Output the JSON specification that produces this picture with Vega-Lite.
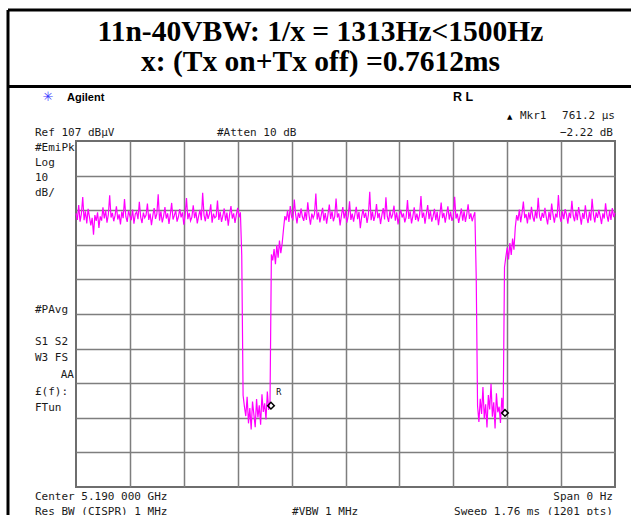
{
  "$schema": "https://vega.github.io/schema/vega-lite/v6.json",
  "width": 539,
  "height": 346,
  "autosize": {"type": "none"},
  "padding": {"left": 76, "top": 141, "right": 16, "bottom": 28},
  "background": "white",
  "title": {
    "text": ["11n-40VBW: 1/x = 1313Hz<1500Hz", "x: (Tx on+Tx off) =0.7612ms"],
    "font": "Liberation Serif",
    "fontSize": 29.5,
    "fontWeight": "bold",
    "color": "black",
    "anchor": "middle",
    "frame": "group",
    "dx": -25,
    "offset": -69,
    "lineHeight": 30
  },
  "config": {
    "view": {"stroke": "#6e6e6e", "strokeWidth": 2}
  },
  "datasets": {
    "frame": [
      {"p": -151.4, "p2": -151.4, "v": 144.86, "v2": -2.5},
      {"p": -151.4, "p2": 1255.6, "v": 144.86, "v2": 144.86},
      {"p": -151.4, "p2": 1255.6, "v": 122.75, "v2": 122.75}
    ],
    "trace": [
      {"p":0,"v":86.1},{"p":3,"v":84.2},{"p":6,"v":88.5},{"p":9,"v":83.7},{"p":12,"v":85.9},{"p":15,"v":90.8},{"p":18,"v":84.1},{"p":21,"v":86.7},{"p":24,"v":83.2},{"p":27,"v":87.4},
      {"p":30,"v":85.0},{"p":33,"v":82.6},{"p":36,"v":84.8},{"p":39,"v":79.9},{"p":42,"v":85.6},{"p":45,"v":83.9},{"p":48,"v":86.4},{"p":51,"v":81.9},{"p":54,"v":85.2},{"p":57,"v":84.0},
      {"p":60,"v":87.8},{"p":63,"v":84.6},{"p":66,"v":86.9},{"p":69,"v":83.4},{"p":72,"v":85.7},{"p":75,"v":91.3},{"p":78,"v":84.9},{"p":81,"v":86.2},{"p":84,"v":83.8},{"p":87,"v":85.5},
      {"p":90,"v":88.1},{"p":93,"v":84.3},{"p":96,"v":85.8},{"p":99,"v":82.9},{"p":102,"v":86.6},{"p":105,"v":84.7},{"p":108,"v":90.2},{"p":111,"v":85.1},{"p":114,"v":83.6},{"p":117,"v":86.8},
      {"p":120,"v":85.3},{"p":123,"v":84.1},{"p":126,"v":87.2},{"p":129,"v":83.1},{"p":132,"v":85.9},{"p":135,"v":86.5},{"p":138,"v":84.4},{"p":141,"v":89.4},{"p":144,"v":85.0},{"p":147,"v":83.3},
      {"p":150,"v":86.3},{"p":153,"v":84.8},{"p":156,"v":85.6},{"p":159,"v":88.9},{"p":162,"v":84.2},{"p":165,"v":86.0},{"p":168,"v":82.7},{"p":171,"v":85.4},{"p":174,"v":87.6},{"p":177,"v":84.5},
      {"p":180,"v":85.9},{"p":183,"v":91.6},{"p":186,"v":84.0},{"p":189,"v":86.7},{"p":192,"v":83.5},{"p":195,"v":85.2},{"p":198,"v":87.9},{"p":201,"v":84.6},{"p":204,"v":86.1},{"p":207,"v":83.0},
      {"p":210,"v":85.8},{"p":213,"v":89.1},{"p":216,"v":84.3},{"p":219,"v":85.5},{"p":222,"v":86.9},{"p":225,"v":83.7},{"p":228,"v":85.1},{"p":231,"v":87.3},{"p":234,"v":84.9},{"p":237,"v":86.4},
      {"p":240,"v":82.8},{"p":243,"v":85.7},{"p":246,"v":90.5},{"p":249,"v":84.4},{"p":252,"v":86.2},{"p":255,"v":83.9},{"p":258,"v":85.0},{"p":261,"v":88.4},{"p":264,"v":84.7},{"p":267,"v":86.6},
      {"p":270,"v":83.2},{"p":273,"v":85.3},{"p":276,"v":87.1},{"p":279,"v":84.1},{"p":282,"v":92.0},{"p":285,"v":85.6},{"p":288,"v":83.8},{"p":291,"v":86.8},{"p":294,"v":84.5},{"p":297,"v":85.9},
      {"p":300,"v":88.7},{"p":303,"v":83.4},{"p":306,"v":86.0},{"p":309,"v":84.8},{"p":312,"v":85.2},{"p":315,"v":89.8},{"p":318,"v":84.2},{"p":321,"v":86.5},{"p":324,"v":83.6},{"p":327,"v":85.4},
      {"p":330,"v":87.5},{"p":333,"v":84.0},{"p":336,"v":86.3},{"p":339,"v":82.5},{"p":342,"v":85.8},{"p":345,"v":88.2},{"p":348,"v":84.6},{"p":351,"v":86.1},{"p":354,"v":83.3},{"p":357,"v":85.7},
      {"p":360,"v":87.7},{"p":363,"v":84.9},{"p":366,"v":86.4},
      {"p":369,"v":74.0},{"p":372,"v":33.5},
      {"p":375,"v":30.2},{"p":378,"v":27.5},{"p":381,"v":33.1},{"p":384,"v":25.4},{"p":387,"v":29.8},{"p":390,"v":23.6},{"p":393,"v":31.7},{"p":396,"v":28.0},{"p":399,"v":24.3},{"p":402,"v":32.4},
      {"p":405,"v":27.1},{"p":408,"v":30.6},{"p":411,"v":25.0},{"p":414,"v":33.8},{"p":417,"v":28.7},{"p":420,"v":31.2},{"p":423,"v":26.5},{"p":426,"v":34.6},{"p":429,"v":29.3},{"p":432,"v":32.0},
      {"p":435,"v":74.2},
      {"p":438,"v":72.5},{"p":441,"v":75.8},{"p":444,"v":71.4},{"p":447,"v":76.9},{"p":450,"v":73.3},{"p":453,"v":78.2},{"p":456,"v":74.6},{"p":459,"v":77.4},
      {"p":462,"v":81.5},
      {"p":465,"v":85.3},{"p":468,"v":84.1},{"p":471,"v":86.9},{"p":474,"v":83.6},{"p":477,"v":88.2},{"p":480,"v":85.0},{"p":483,"v":84.4},{"p":486,"v":90.1},{"p":489,"v":85.7},{"p":492,"v":83.2},
      {"p":495,"v":86.3},{"p":498,"v":84.8},{"p":501,"v":87.5},{"p":504,"v":85.1},{"p":507,"v":83.9},{"p":510,"v":86.6},{"p":513,"v":84.2},{"p":516,"v":89.3},{"p":519,"v":85.4},{"p":522,"v":82.8},
      {"p":525,"v":86.0},{"p":528,"v":84.7},{"p":531,"v":85.9},{"p":534,"v":91.8},{"p":537,"v":84.3},{"p":540,"v":86.4},{"p":543,"v":83.5},{"p":546,"v":85.6},{"p":549,"v":87.7},{"p":552,"v":84.0},
      {"p":555,"v":86.2},{"p":558,"v":83.1},{"p":561,"v":85.8},{"p":564,"v":88.6},{"p":567,"v":84.5},{"p":570,"v":86.7},{"p":573,"v":83.8},{"p":576,"v":85.2},{"p":579,"v":90.4},{"p":582,"v":84.9},
      {"p":585,"v":86.1},{"p":588,"v":82.6},{"p":591,"v":85.5},{"p":594,"v":87.9},{"p":597,"v":84.6},{"p":600,"v":86.8},{"p":603,"v":83.4},{"p":606,"v":85.3},{"p":609,"v":89.6},{"p":612,"v":84.2},
      {"p":615,"v":86.0},{"p":618,"v":83.7},{"p":621,"v":85.9},{"p":624,"v":88.0},{"p":627,"v":84.4},{"p":630,"v":86.5},{"p":633,"v":81.8},{"p":636,"v":85.1},{"p":639,"v":87.3},{"p":642,"v":84.8},
      {"p":645,"v":86.3},{"p":648,"v":83.3},{"p":651,"v":85.7},{"p":654,"v":92.3},{"p":657,"v":84.1},{"p":660,"v":86.6},{"p":663,"v":83.9},{"p":666,"v":85.4},{"p":669,"v":88.8},{"p":672,"v":84.7},
      {"p":675,"v":86.2},{"p":678,"v":83.0},{"p":681,"v":85.6},{"p":684,"v":87.6},{"p":687,"v":84.3},{"p":690,"v":90.7},{"p":693,"v":85.2},{"p":696,"v":83.6},{"p":699,"v":86.9},{"p":702,"v":84.6},
      {"p":705,"v":85.8},{"p":708,"v":88.3},{"p":711,"v":84.0},{"p":714,"v":86.4},{"p":717,"v":82.9},{"p":720,"v":85.5},{"p":723,"v":87.1},{"p":726,"v":84.9},{"p":729,"v":86.1},{"p":732,"v":83.5},
      {"p":735,"v":85.0},{"p":738,"v":89.9},{"p":741,"v":84.5},{"p":744,"v":86.7},{"p":747,"v":83.2},{"p":750,"v":85.3},{"p":753,"v":87.8},{"p":756,"v":84.2},{"p":759,"v":86.0},{"p":762,"v":83.8},
      {"p":765,"v":85.7},{"p":768,"v":91.1},{"p":771,"v":84.8},{"p":774,"v":86.3},{"p":777,"v":83.1},{"p":780,"v":85.9},{"p":783,"v":88.5},{"p":786,"v":84.4},{"p":789,"v":86.8},{"p":792,"v":83.7},
      {"p":795,"v":85.2},{"p":798,"v":87.4},{"p":801,"v":84.1},{"p":804,"v":86.5},{"p":807,"v":82.7},{"p":810,"v":85.6},{"p":813,"v":89.2},{"p":816,"v":84.7},{"p":819,"v":86.2},{"p":822,"v":83.4},
      {"p":825,"v":85.8},{"p":828,"v":88.1},{"p":831,"v":84.3},{"p":834,"v":86.6},{"p":837,"v":83.9},{"p":840,"v":85.1},{"p":843,"v":90.9},{"p":846,"v":84.6},{"p":849,"v":86.0},{"p":852,"v":83.3},
      {"p":855,"v":85.4},{"p":858,"v":87.5},{"p":861,"v":84.0},{"p":864,"v":86.7},{"p":867,"v":83.6},{"p":870,"v":85.9},{"p":873,"v":88.7},{"p":876,"v":84.5},{"p":879,"v":86.1},{"p":882,"v":83.8},
      {"p":885,"v":85.3},{"p":888,"v":86.4},
      {"p":891,"v":68.0},{"p":894,"v":30.5},
      {"p":897,"v":25.8},{"p":900,"v":32.5},{"p":903,"v":28.1},{"p":906,"v":35.9},{"p":909,"v":26.7},{"p":912,"v":30.9},{"p":915,"v":24.2},{"p":918,"v":33.6},{"p":921,"v":29.4},{"p":924,"v":36.8},
      {"p":927,"v":27.3},{"p":930,"v":31.5},{"p":933,"v":23.9},{"p":936,"v":34.1},{"p":939,"v":28.6},{"p":942,"v":30.2},{"p":945,"v":25.5},{"p":948,"v":32.8},{"p":951,"v":28.4},
      {"p":954,"v":70.5},
      {"p":957,"v":73.5},{"p":960,"v":76.2},{"p":963,"v":72.8},{"p":966,"v":77.5},{"p":969,"v":74.1},{"p":972,"v":78.8},{"p":975,"v":75.6},
      {"p":978,"v":82.0},
      {"p":981,"v":85.6},{"p":984,"v":84.0},{"p":987,"v":87.2},{"p":990,"v":83.5},{"p":993,"v":86.1},{"p":996,"v":89.5},{"p":999,"v":84.7},{"p":1002,"v":85.9},{"p":1005,"v":83.2},{"p":1008,"v":86.4},
      {"p":1011,"v":84.3},{"p":1014,"v":88.0},{"p":1017,"v":85.1},{"p":1020,"v":83.7},{"p":1023,"v":86.8},{"p":1026,"v":84.6},{"p":1029,"v":90.6},{"p":1032,"v":85.3},{"p":1035,"v":83.9},{"p":1038,"v":86.2},
      {"p":1041,"v":84.8},{"p":1044,"v":87.7},{"p":1047,"v":85.0},{"p":1050,"v":82.9},{"p":1053,"v":86.5},{"p":1056,"v":84.2},{"p":1059,"v":88.9},{"p":1062,"v":85.7},{"p":1065,"v":83.4},{"p":1068,"v":86.0},
      {"p":1071,"v":84.9},{"p":1074,"v":91.4},{"p":1077,"v":85.2},{"p":1080,"v":83.6},{"p":1083,"v":86.7},{"p":1086,"v":84.4},{"p":1089,"v":87.3},{"p":1092,"v":85.8},{"p":1095,"v":83.1},{"p":1098,"v":86.3},
      {"p":1101,"v":84.7},{"p":1104,"v":89.7},{"p":1107,"v":85.4},{"p":1110,"v":83.8},{"p":1113,"v":86.9},{"p":1116,"v":84.1},{"p":1119,"v":87.9},{"p":1122,"v":85.5},{"p":1125,"v":82.8},{"p":1128,"v":86.2},
      {"p":1131,"v":84.5},{"p":1134,"v":88.4},{"p":1137,"v":85.1},{"p":1140,"v":83.3},{"p":1143,"v":86.6},{"p":1146,"v":84.0},{"p":1149,"v":90.3},{"p":1152,"v":85.8},{"p":1155,"v":83.5},{"p":1158,"v":86.4},
      {"p":1161,"v":84.8},{"p":1164,"v":87.1},{"p":1167,"v":85.3},{"p":1170,"v":83.0},{"p":1173,"v":86.1},{"p":1176,"v":84.6},{"p":1179,"v":89.0},{"p":1182,"v":85.6},{"p":1185,"v":83.7},{"p":1188,"v":86.8},
      {"p":1191,"v":84.2},{"p":1194,"v":87.6},{"p":1197,"v":85.0},{"p":1200,"v":86.3}
    ],
    "markers": [
      {"p": 434, "v": 30.5},
      {"p": 955, "v": 28.4}
    ],
    "markerTags": [
      {"p": 445, "v": 33.6, "label": "R"}
    ],
    "leftText": [
      {"p": -91.3, "v": 108.45, "label": "Ref 107 dBμV"},
      {"p": 313.9, "v": 108.45, "label": "#Atten 10 dB"},
      {"p": 988.5, "v": 113.36, "label": "Mkr1"},
      {"p": -91.3, "v": 104.1, "label": "#EmiPk"},
      {"p": -91.3, "v": 99.77, "label": "Log"},
      {"p": -91.3, "v": 95.44, "label": "10"},
      {"p": -91.3, "v": 91.1, "label": "dB/"},
      {"p": -91.3, "v": 57.3, "label": "#PAvg"},
      {"p": -91.3, "v": 48.04, "label": "S1 S2"},
      {"p": -91.3, "v": 43.4, "label": "W3 FS"},
      {"p": -91.3, "v": 33.6, "label": "£(f):"},
      {"p": -91.3, "v": 28.97, "label": "FTun"},
      {"p": -91.3, "v": 3.24, "label": "Center 5.190 000 GHz"},
      {"p": -91.3, "v": -1.2, "label": "Res BW (CISPR) 1 MHz"},
      {"p": 480.9, "v": -1.2, "label": "#VBW 1 MHz"}
    ],
    "rightText": [
      {"p": 1200, "v": 113.36, "label": "761.2 μs"},
      {"p": 1195.5, "v": 108.45, "label": "−2.22 dB"},
      {"p": -4.45, "v": 38.5, "label": "AA"},
      {"p": 1195.5, "v": 3.24, "label": "Span 0 Hz"},
      {"p": 1195.5, "v": -1.2, "label": "Sweep 1.76 ms (1201 pts)"}
    ],
    "brand": [
      {"p": -20.0, "v": 118.56, "label": "Agilent"}
    ],
    "rl": [
      {"p": 839.3, "v": 118.56, "label": "R L"}
    ],
    "logo": [
      {"p": -62.3, "v": 119.7, "label": "✳"}
    ],
    "delta": [
      {"p": 959.5, "v": 113.36, "label": "▲"}
    ]
  },
  "encoding": {
    "x": {
      "field": "p",
      "type": "quantitative",
      "scale": {"domain": [0, 1200], "nice": false, "zero": false},
      "axis": {"values": [120, 240, 360, 480, 600, 720, 840, 960, 1080], "grid": true, "gridColor": "#7e7e7e", "gridWidth": 1.5, "gridOpacity": 1, "labels": false, "ticks": false, "domain": false, "title": null}
    },
    "y": {
      "field": "v",
      "type": "quantitative",
      "scale": {"domain": [7, 107], "nice": false, "zero": false},
      "axis": {"values": [17, 27, 37, 47, 57, 67, 77, 87, 97], "grid": true, "gridColor": "#7e7e7e", "gridWidth": 1.5, "gridOpacity": 1, "labels": false, "ticks": false, "domain": false, "title": null}
    }
  },
  "layer": [
    {
      "data": {"name": "frame"},
      "mark": {"type": "rule", "stroke": "black", "strokeWidth": 3, "clip": false},
      "encoding": {"x2": {"field": "p2"}, "y2": {"field": "v2"}}
    },
    {
      "data": {"name": "trace"},
      "mark": {"type": "line", "stroke": "#ff00ff", "strokeWidth": 1.2, "clip": false},
      "encoding": {}
    },
    {
      "data": {"name": "markers"},
      "mark": {"type": "point", "shape": "diamond", "filled": false, "stroke": "black", "strokeWidth": 1.5, "size": 45, "opacity": 1}
    },
    {
      "data": {"name": "markerTags"},
      "mark": {"type": "text", "align": "left", "baseline": "alphabetic", "font": "DejaVu Sans", "fontSize": 8, "fill": "black", "clip": false},
      "encoding": {"text": {"field": "label"}}
    },
    {
      "data": {"name": "leftText"},
      "mark": {"type": "text", "align": "left", "baseline": "alphabetic", "font": "DejaVu Sans Mono", "fontSize": 11, "fill": "#1a1a1a", "clip": false},
      "encoding": {"text": {"field": "label"}}
    },
    {
      "data": {"name": "rightText"},
      "mark": {"type": "text", "align": "right", "baseline": "alphabetic", "font": "DejaVu Sans Mono", "fontSize": 11, "fill": "#1a1a1a", "clip": false},
      "encoding": {"text": {"field": "label"}}
    },
    {
      "data": {"name": "brand"},
      "mark": {"type": "text", "align": "left", "baseline": "alphabetic", "font": "Liberation Sans", "fontSize": 11, "fontWeight": "bold", "fill": "black", "clip": false},
      "encoding": {"text": {"field": "label"}}
    },
    {
      "data": {"name": "rl"},
      "mark": {"type": "text", "align": "left", "baseline": "alphabetic", "font": "Liberation Sans", "fontSize": 12.5, "fontWeight": "bold", "fill": "black", "clip": false},
      "encoding": {"text": {"field": "label"}}
    },
    {
      "data": {"name": "logo"},
      "mark": {"type": "text", "align": "center", "baseline": "middle", "font": "DejaVu Sans", "fontSize": 13, "fill": "#3a3aff", "clip": false},
      "encoding": {"text": {"field": "label"}}
    },
    {
      "data": {"name": "delta"},
      "mark": {"type": "text", "align": "left", "baseline": "alphabetic", "font": "DejaVu Sans", "fontSize": 7, "fill": "black", "clip": false},
      "encoding": {"text": {"field": "label"}}
    }
  ]
}
